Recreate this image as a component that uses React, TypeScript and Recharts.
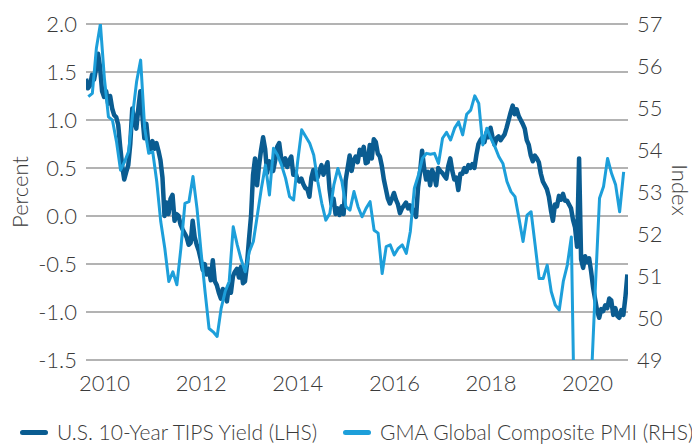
import { LineChart, Line, XAxis, YAxis, CartesianGrid, Legend } from "recharts";

const DARK = "#0A5C91";
const LIGHT = "#1D9FDA";
const GRID = "#B3B3B3";
const TEXT = "#3A3A3A";
const FONT = "Lato, 'Open Sans', sans-serif";

// decimal-year positions of the first reading of each series
const TIPS_START = 2009.615;
const PMI_START = 2009.663;

// U.S. 10-year TIPS yield, %, twice a month
const tipsYield = [
  1.43, 1.33, 1.36, 1.47, 1.42, 1.53, 1.69, 1.55, 1.3, 1.24,
  1.3, 1.17, 1.25, 1.12, 1.05, 1.03, 0.95, 0.72, 0.52, 0.38,
  0.46, 0.53, 0.75, 1.12, 1.0, 0.91, 1.12, 1.3, 1.05, 0.81,
  0.96, 0.74, 0.69, 0.78, 0.7, 0.76, 0.68, 0.58, 0.4, 0.0,
  0.14, 0.02, 0.18, 0.22, -0.05, 0.02, 0.0, -0.09, -0.14, -0.18,
  -0.22, -0.3, -0.28, -0.05, -0.22, -0.3, -0.36, -0.45, -0.56, -0.5,
  -0.61, -0.55, -0.67, -0.46, -0.68, -0.72, -0.8, -0.86, -0.76, -0.82,
  -0.89, -0.73, -0.8, -0.63, -0.58, -0.55, -0.64, -0.53, -0.7, -0.68,
  -0.5, -0.24, 0.0, 0.43, 0.6, 0.32, 0.53, 0.69, 0.82, 0.7,
  0.45, 0.57, 0.5, 0.47, 0.58, 0.72, 0.76, 0.6, 0.53, 0.6,
  0.51, 0.58, 0.62, 0.43, 0.46, 0.39, 0.36, 0.39, 0.33, 0.29,
  0.28, 0.2, 0.4, 0.48, 0.38, 0.4, 0.47, 0.53, 0.43, 0.5,
  0.56, 0.28, 0.12, 0.18, 0.02, 0.08, 0.01, 0.1, 0.02, 0.37,
  0.5, 0.63, 0.47, 0.58, 0.62, 0.56, 0.69, 0.64, 0.72, 0.55,
  0.56, 0.74, 0.6, 0.8, 0.77, 0.65, 0.62, 0.52, 0.38, 0.28,
  0.18, 0.13, 0.18, 0.24, 0.17, 0.12, 0.03, 0.08, 0.11, 0.14,
  0.08, 0.11, 0.04, 0.06, -0.01, 0.3, 0.46, 0.68, 0.5, 0.38,
  0.46, 0.32, 0.48, 0.42, 0.32, 0.5, 0.47, 0.45, 0.42, 0.39,
  0.52, 0.6, 0.47, 0.38, 0.4, 0.27, 0.44, 0.44, 0.5, 0.46,
  0.53, 0.5, 0.54, 0.5, 0.64, 0.75, 0.79, 0.82, 0.77, 0.87,
  0.82, 0.92, 0.82, 0.74, 0.81, 0.83, 0.79, 0.82, 0.85, 0.92,
  1.0, 1.08, 1.15, 1.06, 1.11, 1.04, 1.0, 0.96, 0.91, 0.79,
  0.74, 0.63, 0.57, 0.63, 0.6, 0.56, 0.44, 0.36, 0.32, 0.28,
  0.2, 0.06, -0.05, 0.12, 0.1, 0.21, 0.17, 0.23, 0.16, 0.16,
  0.12, 0.08, -0.04, -0.12, -0.32, 0.6, -0.45, -0.54, -0.42, -0.48,
  -0.44, -0.58, -0.75, -0.87, -0.99, -1.06, -0.97, -0.99, -0.93, -0.96,
  -0.86, -0.88, -1.03, -0.96, -1.04, -1.06, -0.98, -1.03, -0.85, -0.61,
];

// GMA global composite PMI, index, monthly
const pmiIndex = [
  55.27, 55.35, 56.42, 57.0, 55.7, 54.79, 54.71, 54.2, 53.52, 53.72,
  53.96, 54.83, 55.63, 56.14, 54.52, 53.92, 53.96, 53.25, 52.29, 51.66,
  50.87, 51.1, 50.79, 51.66, 52.73, 52.77, 53.37, 52.61, 51.58, 50.63,
  49.75, 49.67, 49.56, 50.23, 50.63, 50.87, 52.17, 51.74, 51.38, 51.1,
  51.58, 51.82, 52.45, 53.09, 53.64, 52.93, 54.04, 53.88, 53.64, 53.33,
  52.89, 52.81, 53.72, 54.48, 54.32, 54.16, 53.88, 53.25, 52.73, 52.33,
  52.49, 53.17, 53.56, 53.25, 52.65, 52.57, 53.01, 52.65, 52.41, 52.61,
  52.77, 52.09, 52.02, 51.06, 51.7, 51.74, 51.5, 51.66, 51.74, 51.54,
  52.06, 53.09, 53.4, 53.8, 53.92, 53.9, 53.92, 53.68, 54.28, 54.42,
  54.24, 54.52, 54.67, 54.36, 54.85, 54.95, 55.29, 55.11, 54.12, 54.52,
  54.28, 54.08, 53.84, 53.68, 53.25, 53.01, 52.89, 52.37, 51.82, 52.45,
  52.53, 51.74, 50.94, 50.94, 51.26, 50.63, 50.31, 50.19, 50.87, 51.26,
  51.93, 46.1, 39.4, 26.2, 36.3, 48.6, 50.8, 52.85, 53.13, 53.8,
  53.44, 53.17, 52.53, 53.48,
];

const yearTicks = [2010, 2012, 2014, 2016, 2018, 2020];
const percentTicks = [-1.5, -1, -0.5, 0, 0.5, 1, 1.5, 2];
const indexTicks = [49, 50, 51, 52, 53, 54, 55, 56, 57];

const legendItems = [
  { label: "U.S. 10-Year TIPS Yield (LHS)", color: DARK, left: 20 },
  { label: "GMA Global Composite PMI (RHS)", color: LIGHT, left: 343 },
];

const tipsData = tipsYield.map((value, i) => ({ t: TIPS_START + i / 24, value }));
const pmiData = pmiIndex.map((value, i) => ({ t: PMI_START + i / 12, value }));

const tickStyle = { fill: TEXT, fontSize: 22, fontFamily: FONT, fontWeight: 300 };

function ChartLegend() {
  return (
    <div style={{ position: "relative", height: 40, width: 692, fontFamily: FONT, fontWeight: 300 }}>
      {legendItems.map((item) => (
        <div
          key={item.label}
          style={{ position: "absolute", left: item.left, top: 13, display: "flex", alignItems: "center", whiteSpace: "nowrap" }}
        >
          <span style={{ display: "inline-block", width: 28, height: 5, borderRadius: 3, background: item.color, marginRight: 9 }} />
          <span style={{ fontSize: 21, color: TEXT, lineHeight: "26px" }}>{item.label}</span>
        </div>
      ))}
    </div>
  );
}

export default function App() {
  return (
    <div style={{ position: "absolute", left: 0, top: 0 }}>
      <LineChart width={692} height={446} margin={{ top: 24, right: 0, bottom: 0, left: 0 }}>
        <CartesianGrid yAxisId="left" vertical={false} stroke={GRID} strokeWidth={2} />
        <XAxis
          dataKey="t"
          type="number"
          domain={[2009.615, 2020.836]}
          allowDataOverflow
          ticks={yearTicks}
          tickFormatter={(v: number) => String(v)}
          axisLine={false}
          tickLine={false}
          tickSize={0}
          tickMargin={15}
          height={46}
          tick={tickStyle}
        />
        <YAxis
          yAxisId="left"
          domain={[-1.5, 2]}
          ticks={percentTicks}
          tickFormatter={(v: number) => v.toFixed(1)}
          axisLine={false}
          tickLine={false}
          tickSize={0}
          tickMargin={9}
          width={86}
          tick={tickStyle}
          label={() => (
            <text x={19} y={192} transform="rotate(-90 19 192)" textAnchor="middle" dominantBaseline="central" style={tickStyle}>
              Percent
            </text>
          )}
        />
        <YAxis
          yAxisId="right"
          orientation="right"
          domain={[49, 57]}
          allowDataOverflow
          ticks={indexTicks}
          axisLine={false}
          tickLine={false}
          tickSize={0}
          tickMargin={9}
          width={64}
          tick={tickStyle}
          label={() => (
            <text x={680} y={190} transform="rotate(90 680 190)" textAnchor="middle" dominantBaseline="central" style={tickStyle}>
              Index
            </text>
          )}
        />
        <Legend verticalAlign="bottom" height={40} content={() => <ChartLegend />} />
        <Line
          yAxisId="left"
          data={tipsData}
          dataKey="value"
          name="U.S. 10-Year TIPS Yield (LHS)"
          stroke={DARK}
          strokeWidth={4.5}
          strokeLinejoin="round"
          dot={false}
          isAnimationActive={false}
        />
        <Line
          yAxisId="right"
          data={pmiData}
          dataKey="value"
          name="GMA Global Composite PMI (RHS)"
          stroke={LIGHT}
          strokeWidth={3}
          strokeLinejoin="round"
          dot={false}
          isAnimationActive={false}
        />
      </LineChart>
    </div>
  );
}
